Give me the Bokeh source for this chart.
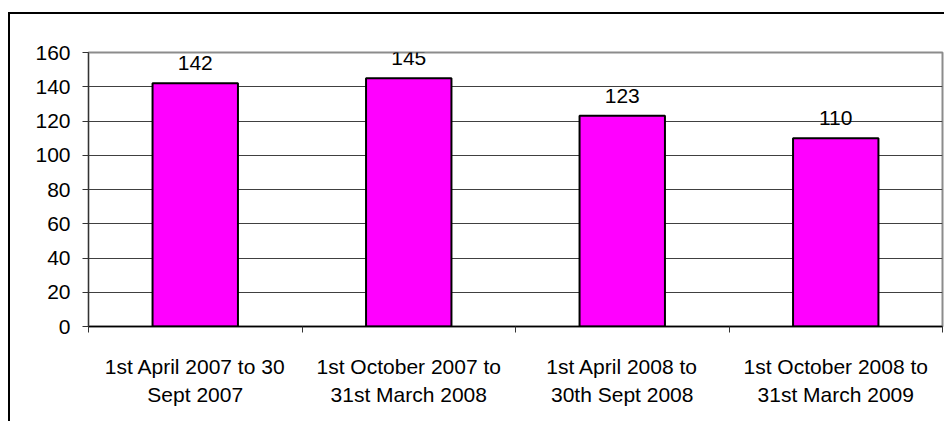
from bokeh.plotting import figure
from bokeh.models import (ColumnDataSource, Range1d, LinearAxis, FixedTicker, LabelSet)
from bokeh.core.properties import value
from bokeh.embed import file_html
from bokeh.resources import INLINE

categories = [
    "1st April 2007 to 30\nSept 2007",
    "1st October 2007 to\n31st March 2008",
    "1st April 2008 to\n30th Sept 2008",
    "1st October 2008 to\n31st March 2009",
]
values = [142, 145, 123, 110]
y_ticks = [0, 20, 40, 60, 80, 100, 120, 140, 160]

FONT = "Liberation Sans"
FS = "21px"

n = len(categories)
centers = [i + 0.5 for i in range(n)]
bounds = list(range(n + 1))
src = ColumnDataSource(dict(x=centers, val=values, lab=[str(v) for v in values]))

p = figure(x_range=Range1d(0, n), y_range=Range1d(y_ticks[0], y_ticks[-1]),
           width=936, height=409, output_backend="svg", toolbar_location=None,
           x_axis_location=None, min_border_left=78, min_border_top=38,
           min_border_right=4, min_border_bottom=97)
p.styles = {"border-top": "2px solid black", "border-left": "2px solid black",
            "margin-top": "12px", "margin-left": "8px"}

tick_axis = LinearAxis(ticker=FixedTicker(ticks=bounds),
                       major_label_overrides={b: "" for b in bounds},
                       major_label_standoff=0,
                       major_tick_out=6, major_tick_in=0, minor_tick_out=0, minor_tick_in=0,
                       axis_line_color="black", axis_line_width=1.5,
                       major_tick_line_color="#333333", major_tick_line_width=1)
label_axis = LinearAxis(ticker=FixedTicker(ticks=centers),
                        major_label_overrides={c: lab for c, lab in zip(centers, categories)},
                        major_tick_line_color=None, minor_tick_line_color=None, axis_line_color=None,
                        major_label_text_font=FONT, major_label_text_font_size=FS,
                        major_label_text_color="black", major_label_standoff=16,
                        major_label_text_line_height=1.22)
p.add_layout(tick_axis, "below")
p.add_layout(label_axis, "below")

p.yaxis.ticker = FixedTicker(ticks=y_ticks)
p.yaxis.major_label_text_font = FONT
p.yaxis.major_label_text_font_size = FS
p.yaxis.major_label_text_color = "black"
p.yaxis.major_label_standoff = 12
p.yaxis.major_tick_out = 6
p.yaxis.major_tick_in = 0
p.yaxis.minor_tick_line_color = None
p.yaxis.axis_line_color = "#333333"
p.yaxis.major_tick_line_color = "#333333"

p.xgrid.visible = False
p.ygrid.ticker = FixedTicker(ticks=y_ticks[1:-1])
p.ygrid.grid_line_color = "#404040"
p.ygrid.grid_line_width = 1

p.outline_line_color = "#8c8c8c"
p.outline_line_width = 2

p.vbar(x="x", top="val", width=0.4, source=src, fill_color="#FF00FF",
       line_color="black", line_width=2)

labels = LabelSet(x="x", y="val", text="lab", source=src, text_align="center",
                  text_baseline="alphabetic", y_offset=13, text_font=value(FONT),
                  text_font_size=value(FS), text_color="black")
p.add_layout(labels)

open("out.html", "w").write(file_html(p, INLINE))
